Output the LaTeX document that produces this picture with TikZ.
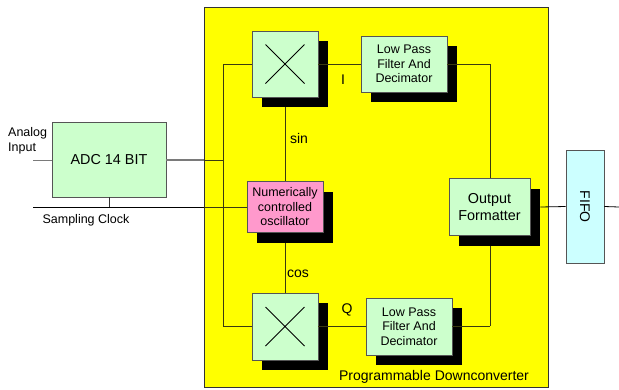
\documentclass[tikz,border=0pt]{standalone}
\usepackage{fontspec}
\setmainfont{Liberation Sans}
\usetikzlibrary{shadows}
\definecolor{boxgreen}{HTML}{CCFFCC}
\definecolor{boxpink}{HTML}{FF99CC}
\definecolor{boxcyan}{HTML}{CCFFFF}
\definecolor{yel}{HTML}{FFFF00}
\definecolor{wire}{HTML}{3A3A10}
\definecolor{edge}{HTML}{555555}
\definecolor{gwire}{HTML}{7A7A7A}
\begin{document}
\begin{tikzpicture}[x=1pt,y=-1pt,
  blk/.style={draw=edge, line width=0.8pt, fill=boxgreen, inner sep=0pt, align=center, font=\fontsize{12.5}{14.5}\selectfont},
  shad/.style={drop shadow={shadow xshift=10pt, shadow yshift=-10pt, opacity=1, fill=black}},
  mixer/.style={blk, shad, minimum width=66pt, minimum height=66pt,
    path picture={\draw[black, line width=0.8pt] (path picture bounding box.center) +(-19.5,-19.5) -- +(19.5,19.5) +(-19.5,19.5) -- +(19.5,-19.5);}},
  lpf/.style={blk, shad, minimum width=86pt, minimum height=56pt},
  wireline/.style={draw=wire, line width=0.8pt},
  lbl/.style={font=\fontsize{14}{16}\selectfont, inner sep=0pt},
  slbl/.style={font=\fontsize{12.5}{14.5}\selectfont, inner sep=0pt}
]
\useasboundingbox (0,0) rectangle (619,389);
% yellow container
\node[draw=black!80, line width=0.8pt, fill=yel, minimum width=344pt, minimum height=380pt, inner sep=0pt] (pdc) at (376,197) {};

% coordinates
\coordinate (ain) at (33,160);
\coordinate (clk) at (33,207);
\coordinate (fout) at (619,207);

% wires first
\draw[wireline] (285,64) -- (285,207);
\draw[wireline] (285,207) -- (285,326);
\draw[wireline] (223,64) -- (223,326);
\draw[wireline] (252,64) -- (223,64);
\draw[wireline] (252,326) -- (223,326);
\draw[wireline] (490,64) -- (490,326);

% blocks
\node[blk, minimum width=114pt, minimum height=75pt, font=\fontsize{14.4}{16}\selectfont] (adc) at (109,159.5) {ADC 14 BIT};
\node[mixer] (mixU) at (285,64) {};
\node[lpf] (lpfU) at (404,64) {Low Pass\\Filter And\\Decimator};
\node[blk, shad, fill=boxpink, minimum width=76pt, minimum height=51pt] (nco) at (285,207) {Numerically\\controlled\\oscillator};
\node[blk, shad, minimum width=81pt, minimum height=57pt, font=\fontsize{14.4}{17}\selectfont] (of) at (489.5,207) {Output\\Formatter};
\node[mixer, minimum height=67pt] (mixL) at (285,326.5) {};
\node[lpf, minimum height=57pt] (lpfL) at (409,326.5) {Low Pass\\Filter And\\Decimator};
\node[blk, fill=boxcyan, minimum width=38pt, minimum height=113pt] (fifo) at (585,206.5) {\rotatebox{-90}{\fontsize{14}{16}\selectfont FIFO}};

% connectors
\draw[draw=gwire, line width=1pt] (ain) -- (adc.west |- ain);
\draw[draw=gwire, line width=1.2pt] (adc.east |- ain) -- (204,160);
\draw[wireline] (204,160) -- (223,160);
\draw[draw=black!80, line width=0.8pt] (adc.south) -- (adc.south |- clk);
\draw[draw=black, line width=0.8pt] (clk) -- (204,207);
\draw[wireline] (204,207) -- (nco.west);
\draw[wireline] (mixU.east) -- (lpfU.west);
\draw[wireline] (lpfU.east) -- (490,64);
\draw[wireline] (mixL.east |- 0,326) -- (lpfL.west |- 0,326);
\draw[wireline] (lpfL.east |- 0,326) -- (490,326);
\draw[draw=black, line width=0.8pt] (of.east) ++(10,0) -- (fifo.west);
\draw[draw=black, line width=0.8pt] (fifo.east) -- (fout);

% labels
\node[slbl, align=left, anchor=west] (lan) at (8,141) {Analog\\Input};
\node[slbl] (lclk) at (86,220) {Sampling Clock};
\node[lbl] (li) at (343,80) {I};
\node[lbl] (lsin) at (299,138) {sin};
\node[lbl] (lcos) at (298,274) {cos};
\node[lbl] (lq) at (347,310) {Q};
\node[lbl] (lpd) at (434,377) {Programmable Downconverter};
\end{tikzpicture}
\end{document}
